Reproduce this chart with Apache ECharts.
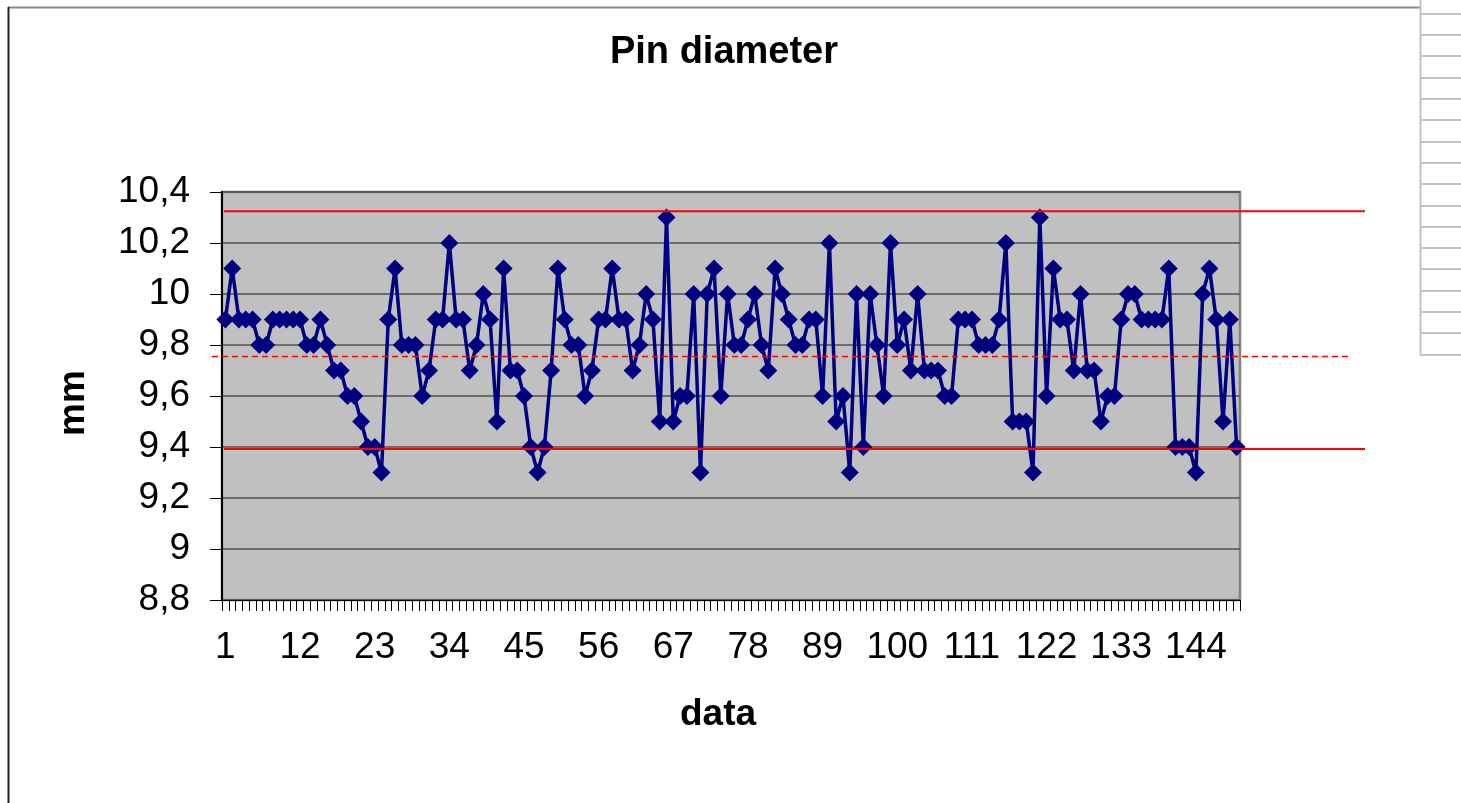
<!DOCTYPE html>
<html>
<head>
<meta charset="utf-8">
<script src="https://cdn.jsdelivr.net/npm/echarts@6/dist/echarts.min.js"></script>
<style>
html,body{margin:0;padding:0;background:#fff;}
#chart{width:1461px;height:803px;}
</style>
</head>
<body>
<div id="chart"></div>
<script>
// ---- data ----
const chartTitle = 'Pin diameter';
const xName = 'data';
const yName = 'mm';
const categories = Array.from({length: 150}, (_, i) => String(i + 1));
const diameters = [
  9.9, 10.1, 9.9, 9.9, 9.9, 9.8, 9.8, 9.9, 9.9, 9.9,
  9.9, 9.9, 9.8, 9.8, 9.9, 9.8, 9.7, 9.7, 9.6, 9.6,
  9.5, 9.4, 9.4, 9.3, 9.9, 10.1, 9.8, 9.8, 9.8, 9.6,
  9.7, 9.9, 9.9, 10.2, 9.9, 9.9, 9.7, 9.8, 10.0, 9.9,
  9.5, 10.1, 9.7, 9.7, 9.6, 9.4, 9.3, 9.4, 9.7, 10.1,
  9.9, 9.8, 9.8, 9.6, 9.7, 9.9, 9.9, 10.1, 9.9, 9.9,
  9.7, 9.8, 10.0, 9.9, 9.5, 10.3, 9.5, 9.6, 9.6, 10.0,
  9.3, 10.0, 10.1, 9.6, 10.0, 9.8, 9.8, 9.9, 10.0, 9.8,
  9.7, 10.1, 10.0, 9.9, 9.8, 9.8, 9.9, 9.9, 9.6, 10.2,
  9.5, 9.6, 9.3, 10.0, 9.4, 10.0, 9.8, 9.6, 10.2, 9.8,
  9.9, 9.7, 10.0, 9.7, 9.7, 9.7, 9.6, 9.6, 9.9, 9.9,
  9.9, 9.8, 9.8, 9.8, 9.9, 10.2, 9.5, 9.5, 9.5, 9.3,
  10.3, 9.6, 10.1, 9.9, 9.9, 9.7, 10.0, 9.7, 9.7, 9.5,
  9.6, 9.6, 9.9, 10.0, 10.0, 9.9, 9.9, 9.9, 9.9, 10.1,
  9.4, 9.4, 9.4, 9.3, 10.0, 10.1, 9.9, 9.5, 9.9, 9.4
];
const upperLimit = 10.325;
const centerLine = 9.755;
const lowerLimit = 9.392;
const yMin = 8.8, yMax = 10.4, yStep = 0.2;
const yTickLabels = ['8,8','9','9,2','9,4','9,6','9,8','10','10,2','10,4'];

// ---- chart ----
const FONT = 'Liberation Sans, Arial, sans-serif';
const chart = echarts.init(document.getElementById('chart'), null, {renderer: 'canvas'});

const H = 803, W = 1461;
const gridTop = 192, gridBottomY = 600, gridLeft = 222, gridRightX = 1240;

function hiddenY(idx) {
  return {gridIndex: idx, type: 'value', min: yMin, max: yMax, show: false, splitLine: {show: false}};
}
function hiddenX(idx) {
  return {gridIndex: idx, type: 'value', min: 0, max: 1, show: false, splitLine: {show: false}};
}

// decorative frame lines
const frame = [];
frame.push({type: 'line', shape: {x1: 8, y1: 7.5, x2: 1420, y2: 7.5}, style: {stroke: '#8a8a8a', lineWidth: 2}, silent: true});
frame.push({type: 'line', shape: {x1: 8.5, y1: 7, x2: 8.5, y2: 803}, style: {stroke: '#222', lineWidth: 2}, silent: true});
frame.push({type: 'line', shape: {x1: 1420.5, y1: 0, x2: 1420.5, y2: 355}, style: {stroke: '#c4c4c4', lineWidth: 2}, silent: true});
const tableRows = [14, 35, 56, 78, 99, 120, 142, 163, 184, 206, 227, 248, 269, 291, 312, 333, 355];
tableRows.forEach(y => frame.push({type: 'line', shape: {x1: 1420, y1: y, x2: 1461, y2: y}, style: {stroke: '#c4c4c4', lineWidth: 2}, silent: true}));

const option = {
  animation: false,
  backgroundColor: '#ffffff',
  title: {
    text: chartTitle,
    left: 719,
    textAlign: 'center',
    top: 29,
    textStyle: {fontFamily: FONT, fontWeight: 'bold', fontSize: 38, color: '#000'}
  },
  graphic: frame,
  grid: [
    {left: gridLeft, right: W - gridRightX, top: gridTop, bottom: H - gridBottomY,
     show: true, backgroundColor: '#c0c0c0', borderColor: '#808080', borderWidth: 2.5},
    {left: 224, right: W - 1365, top: gridTop, bottom: H - gridBottomY},
    {left: 212, right: W - 1350, top: gridTop, bottom: H - gridBottomY}
  ],
  xAxis: [
    {
      gridIndex: 0,
      type: 'category',
      data: categories,
      boundaryGap: true,
      name: xName,
      nameLocation: 'middle',
      nameGap: 96,
      nameTextStyle: {fontFamily: FONT, fontWeight: 'bold', fontSize: 37, color: '#000', padding: [0, 26, 0, 0]},
      axisLine: {show: true, lineStyle: {color: '#000', width: 1}},
      axisTick: {show: true, interval: 0, length: 11, alignWithLabel: false, lineStyle: {color: '#000', width: 1}},
      axisLabel: {interval: 10, margin: 29, fontFamily: FONT, fontSize: 37, color: '#000'},
      splitLine: {show: false}
    },
    hiddenX(1),
    hiddenX(2)
  ],
  yAxis: [
    {
      gridIndex: 0,
      type: 'value',
      min: yMin,
      max: yMax,
      interval: yStep,
      name: yName,
      nameLocation: 'middle',
      nameGap: 130,
      nameRotate: 90,
      nameTextStyle: {fontFamily: FONT, fontWeight: 'bold', fontSize: 37, color: '#000', padding: [0, 14, 0, 0]},
      axisLine: {show: true, lineStyle: {color: '#000', width: 2}},
      axisTick: {show: true, length: 12, lineStyle: {color: '#000', width: 1}},
      axisLabel: {
        margin: 32, fontFamily: FONT, fontSize: 37, color: '#000',
        formatter: v => yTickLabels[Math.round((v - yMin) / yStep)]
      },
      splitLine: {show: true, lineStyle: {color: '#505050', width: 1.5}}
    },
    hiddenY(1),
    hiddenY(2)
  ],
  series: [
    {
      type: 'line',
      xAxisIndex: 0, yAxisIndex: 0,
      data: diameters,
      symbol: 'diamond',
      symbolSize: 18,
      showAllSymbol: true,
      lineStyle: {color: '#000080', width: 3.5},
      itemStyle: {color: '#000080'},
      z: 3
    },
    {
      type: 'line', xAxisIndex: 1, yAxisIndex: 1,
      data: [[0, upperLimit], [1, upperLimit]],
      symbol: 'none', lineStyle: {color: '#ff0000', width: 2}, z: 5, silent: true
    },
    {
      type: 'line', xAxisIndex: 1, yAxisIndex: 1,
      data: [[0, lowerLimit], [1, lowerLimit]],
      symbol: 'none', lineStyle: {color: '#ff0000', width: 2}, z: 5, silent: true
    },
    {
      type: 'line', xAxisIndex: 2, yAxisIndex: 2,
      data: [[0, centerLine], [1, centerLine]],
      symbol: 'none', lineStyle: {color: '#ff0000', width: 1.5, type: [6, 4]}, z: 5, silent: true
    }
  ]
};
chart.setOption(option);
</script>
</body>
</html>
